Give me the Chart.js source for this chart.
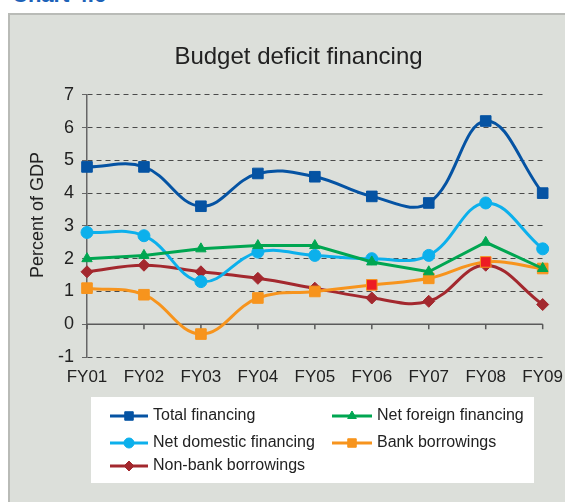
<!DOCTYPE html>
<html>
<head>
<meta charset="utf-8">
<script src="https://cdn.jsdelivr.net/npm/chart.js@4"></script>
<style>
  body { margin: 0; background: #fff; }
  #wrap { position: relative; width: 565px; height: 502px; overflow: hidden; }
  #panel { position: absolute; left: 8px; top: 13px; width: 600px; height: 520px;
           background: #dcdfda; border-left: 2px solid #b9bbb7; border-top: 2px solid #b9bbb7; }
  #label { position: absolute; left: 12px; top: -18px; font: bold 22px "Liberation Sans", Arial, sans-serif; color: #1d62b8; }
  #myChart { position: absolute; left: 0; top: 0; }
</style>
</head>
<body>
<div id="wrap">
  <div id="panel"></div>
  <div id="label">Chart 4.6</div>
  <canvas id="myChart" width="565" height="502"></canvas>
</div>
<script>
var categories = ['FY01', 'FY02', 'FY03', 'FY04', 'FY05', 'FY06', 'FY07', 'FY08', 'FY09'];
var totalFinancing = [4.8, 4.8, 3.6, 4.6, 4.5, 3.9, 3.7, 6.2, 4.0];
var netForeign = [2.0, 2.1, 2.3, 2.4, 2.4, 1.9, 1.6, 2.5, 1.7];
var netDomestic = [2.8, 2.7, 1.3, 2.2, 2.1, 2.0, 2.1, 3.7, 2.3];
var bankBorrowings = [1.1, 0.9, -0.3, 0.8, 1.0, 1.2, 1.4, 1.9, 1.7];
var nonBankBorrowings = [1.6, 1.8, 1.6, 1.4, 1.1, 0.8, 0.7, 1.8, 0.6];
var yTicks = [-1, 0, 1, 2, 3, 4, 5, 6, 7];

var FONT = '"Liberation Sans", Arial, sans-serif';

// bank markers in FY06 and FY08 are filled red in the original
var bankFill = categories.map(function (c) {
    return (c === 'FY06' || c === 'FY08') ? '#ed1c24' : '#f7941d';
});

// zero axis line + small ticks, y title
var axisExtras = {
    id: 'axisExtras',
    beforeDatasetsDraw: function (chart) {
        var c = chart.ctx, x = chart.scales.x, y = chart.scales.y;
        var y0 = y.getPixelForValue(0);
        c.save();
        c.strokeStyle = '#5a5a5a';
        c.lineWidth = 1.5;
        c.beginPath();
        c.moveTo(chart.chartArea.left, y0);
        c.lineTo(chart.chartArea.right, y0);
        for (var i = 0; i < categories.length; i++) {
            var px = x.getPixelForValue(i);
            c.moveTo(px, y0);
            c.lineTo(px, y0 + 5);
        }
        c.stroke();
        c.restore();
    },
    afterDraw: function (chart) {
        var c = chart.ctx;
        c.save();
        c.translate(38, 215);
        c.rotate(-Math.PI / 2);
        c.font = '18px ' + FONT;
        c.fillStyle = '#222';
        c.textAlign = 'center';
        c.textBaseline = 'middle';
        c.fillText('Percent of GDP', 0, 0);
        c.restore();
    }
};

// two column legend in a white box under the chart
var boxLegend = {
    id: 'boxLegend',
    afterDraw: function (chart) {
        var c = chart.ctx;
        c.save();
        c.fillStyle = '#ffffff';
        c.fillRect(91, 397, 443, 86);
        var spots = [[110, 416], [332, 416], [110, 443], [332, 443], [110, 466]];
        chart.data.datasets.forEach(function (ds, i) {
            var x = spots[i][0], y = spots[i][1];
            var w = i % 2 === 0 ? 38 : 40;
            c.strokeStyle = ds.borderColor;
            c.lineWidth = 3;
            c.beginPath();
            c.moveTo(x, y);
            c.lineTo(x + w, y);
            c.stroke();
            c.fillStyle = ds.borderColor;
            c.strokeStyle = ds.borderColor;
            c.lineWidth = 1;
            Chart.helpers.drawPoint(c, { pointStyle: ds.pointStyle, radius: ds.pointStyle === 'rect' ? 6 : 5, rotation: 0, borderWidth: 1 }, x + w / 2, y);
            c.fillStyle = '#222';
            c.font = '16px ' + FONT;
            c.textBaseline = 'middle';
            c.fillText(ds.label, x + w + 5, y);
        });
        c.restore();
    }
};

var ctx = document.getElementById('myChart').getContext('2d');
var chart = new Chart(ctx, {
    type: 'line',
    data: {
        labels: categories,
        datasets: [{
            label: 'Total financing',
            data: totalFinancing,
            borderColor: '#0553a3',
            backgroundColor: '#0553a3',
            pointStyle: 'rect',
            pointRadius: 7.5,
            tension: 0.4
        }, {
            label: 'Net foreign financing',
            data: netForeign,
            borderColor: '#00a651',
            backgroundColor: '#00a651',
            pointStyle: 'triangle',
            pointRadius: 6,
            tension: 0
        }, {
            label: 'Net domestic financing',
            data: netDomestic,
            borderColor: '#0cb0ec',
            backgroundColor: '#0cb0ec',
            pointStyle: 'circle',
            pointRadius: 6,
            tension: 0.4
        }, {
            label: 'Bank borrowings',
            data: bankBorrowings,
            borderColor: '#f7941d',
            backgroundColor: '#f7941d',
            pointBackgroundColor: bankFill,
            pointStyle: 'rect',
            pointRadius: 7.5,
            tension: 0.4
        }, {
            label: 'Non-bank borrowings',
            data: nonBankBorrowings,
            borderColor: '#a3282e',
            backgroundColor: '#a3282e',
            pointStyle: 'rectRot',
            pointRadius: 6,
            tension: 0.4
        }]
    },
    options: {
        responsive: false,
        animation: false,
        elements: {
            line: { borderWidth: 3 },
            point: { borderWidth: 1 }
        },
        layout: { padding: { left: 50, right: 18, top: 0, bottom: 115 } },
        plugins: {
            legend: { display: false },
            tooltip: { enabled: false },
            title: {
                display: true,
                text: 'Budget deficit financing',
                color: '#222',
                font: { family: FONT, size: 24, weight: 'normal' },
                padding: { top: 43, bottom: 23 }
            }
        },
        scales: {
            x: {
                offset: false,
                grid: { display: false },
                border: { display: false },
                ticks: { color: '#222', font: { family: FONT, size: 17 }, padding: 2, maxRotation: 0, autoSkip: false },
                afterFit: function (scale) { scale.height = 30; }
            },
            y: {
                min: -1,
                max: 7,
                afterBuildTicks: function (scale) {
                    scale.ticks = yTicks.map(function (v) { return { value: v }; });
                },
                grid: { color: '#4a4a4a', lineWidth: 1, tickLength: 5, tickColor: '#666' },
                border: {
                    display: true, color: '#666', width: 1.5,
                    dash: function (c) { return c.tick && c.tick.value === 0 ? [] : [5, 4]; }
                },
                ticks: { color: '#222', font: { family: FONT, size: 18 }, padding: 8 },
                afterFit: function (scale) { scale.width = 37; }
            }
        }
    },
    plugins: [axisExtras, boxLegend]
});
</script>
</body>
</html>
